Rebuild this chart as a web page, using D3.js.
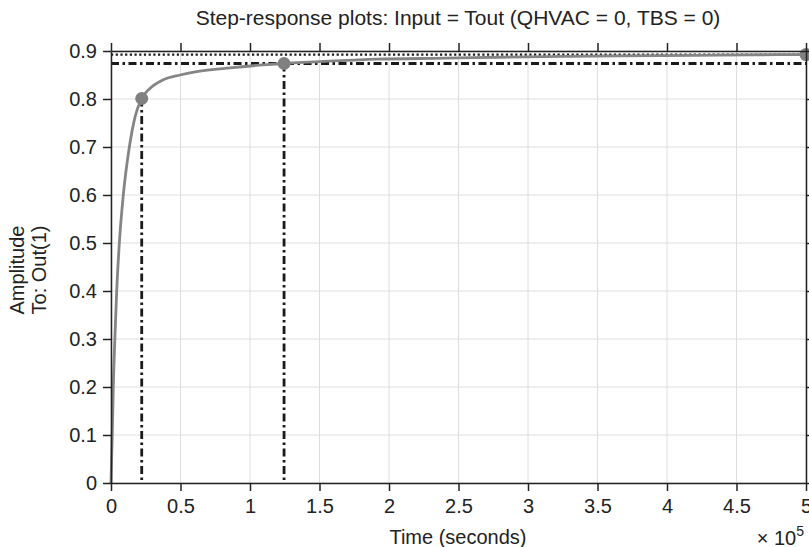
<!DOCTYPE html>
<html>
<head>
<meta charset="utf-8">
<script src="https://cdn.jsdelivr.net/npm/d3@7"></script>
<style>
  body { margin: 0; background: #fff; }
  svg { display: block; font-family: "Liberation Sans", Arial, sans-serif; }
</style>
</head>
<body>
<svg id="chart" width="809" height="547"></svg>
<script>
// step response (time in seconds, amplitude)
const timeS = [0, 450, 900, 1650, 2900, 4100, 6000, 8850, 13200, 17500, 22100, 28000, 37600, 49600, 61600,
  85600, 109500, 124500, 157500, 191000, 240000, 280000, 330000, 366000, 420000, 460000, 500000];
const amp = [0, 0.052, 0.10, 0.20, 0.31, 0.40, 0.50, 0.60, 0.70, 0.765, 0.801, 0.822, 0.840, 0.850, 0.857,
  0.865, 0.871, 0.874, 0.879, 0.883, 0.885, 0.887, 0.889, 0.890, 0.891, 0.892, 0.8925];

// characteristics markers
const riseTime = 22100, riseAmp = 0.801;
const settleTime = 124500, settleAmp = 0.874;
const finalTime = 500000, finalAmp = 0.8925;

const xTicks = [0, 0.5e5, 1e5, 1.5e5, 2e5, 2.5e5, 3e5, 3.5e5, 4e5, 4.5e5, 5e5];
const yTicks = [0, 0.1, 0.2, 0.3, 0.4, 0.5, 0.6, 0.7, 0.8, 0.9];

const titleText = "Step-response plots: Input = Tout (QHVAC = 0, TBS = 0)";

const margin = {top: 51, right: 3, bottom: 64, left: 111};
const W = 809, H = 547;
const svg = d3.select('#chart');

const x = d3.scaleLinear().domain([0, 5e5]).range([margin.left, W - margin.right]);
const y = d3.scaleLinear().domain([0, 0.9]).range([H - margin.bottom, margin.top]);

// grid
const grid = svg.append('g').attr('stroke', '#dedede').attr('stroke-width', 1);
grid.selectAll('line.gx').data(xTicks).join('line')
  .attr('x1', d => x(d)).attr('x2', d => x(d))
  .attr('y1', y(0)).attr('y2', y(0.9));
grid.selectAll('line.gy').data(yTicks).join('line')
  .attr('x1', x(0)).attr('x2', x(5e5))
  .attr('y1', d => y(d)).attr('y2', d => y(d));

const dashDot = '8,3.5,2.5,3.5';

// steady state (dotted)
svg.append('line')
  .attr('x1', x(0)).attr('x2', x(5e5))
  .attr('y1', y(finalAmp)).attr('y2', y(finalAmp))
  .attr('stroke', '#1a1a1a').attr('stroke-width', 2.4).attr('stroke-dasharray', '2.2,2.5');

// settling band (dash-dot)
svg.append('line')
  .attr('x1', x(0)).attr('x2', x(5e5))
  .attr('y1', y(settleAmp)).attr('y2', y(settleAmp))
  .attr('stroke', '#1a1a1a').attr('stroke-width', 2.8).attr('stroke-dasharray', dashDot);

// vertical markers
svg.selectAll('line.vm').data([[riseTime, riseAmp], [settleTime, settleAmp]]).join('line')
  .attr('x1', d => x(d[0])).attr('x2', d => x(d[0]))
  .attr('y1', d => y(d[1])).attr('y2', y(0))
  .attr('stroke', '#1a1a1a').attr('stroke-width', 2.8).attr('stroke-dasharray', dashDot);

// response curve
const line = d3.line().x((d, i) => x(timeS[i])).y(d => y(d)).curve(d3.curveMonotoneX);
svg.append('path').datum(amp)
  .attr('d', line)
  .attr('fill', 'none').attr('stroke', '#858585').attr('stroke-width', 2.8);

svg.selectAll('circle.pt').data([[riseTime, riseAmp], [settleTime, settleAmp], [finalTime, finalAmp]]).join('circle')
  .attr('cx', d => x(d[0])).attr('cy', d => y(d[1])).attr('r', 6.5)
  .attr('fill', '#808080');

// axes
const fmtX = d => d3.format('~g')(d / 1e5);
const fmtY = d => d3.format('~g')(d3.format('.1f')(d));

function styleAxis(g) {
  g.selectAll('path.domain').attr('stroke', '#222').attr('stroke-width', 1.5);
  g.selectAll('.tick line').attr('stroke', '#222').attr('stroke-width', 1.5);
  g.selectAll('.tick text').attr('fill', '#222').style('font-size', '20px')
    .style('font-family', '"Liberation Sans", Arial, sans-serif');
}

svg.append('g').attr('transform', `translate(0,${y(0)})`)
  .call(d3.axisBottom(x).tickValues(xTicks).tickFormat(fmtX).tickSize(8).tickSizeOuter(0).tickPadding(8))
  .call(styleAxis);
svg.append('g').attr('transform', `translate(0,${y(0.9)})`)
  .call(d3.axisTop(x).tickValues(xTicks).tickFormat('').tickSize(8).tickSizeOuter(0))
  .call(styleAxis);
svg.append('g').attr('transform', `translate(${x(0)},0)`)
  .call(d3.axisLeft(y).tickValues(yTicks).tickFormat(fmtY).tickSize(8).tickSizeOuter(0).tickPadding(6))
  .call(styleAxis);
svg.append('g').attr('transform', `translate(${x(5e5)},0)`)
  .call(d3.axisRight(y).tickValues(yTicks).tickFormat('').tickSize(8).tickSizeOuter(0))
  .call(styleAxis);

// texts
svg.append('text').attr('x', 458).attr('y', 25).attr('text-anchor', 'middle')
  .style('font-size', '21px').attr('fill', '#222').text(titleText);

svg.append('text').attr('x', 458).attr('y', 544).attr('text-anchor', 'middle')
  .style('font-size', '20px').attr('fill', '#222').text('Time (seconds)');

const expo = svg.append('text').attr('x', 804).attr('y', 545).attr('text-anchor', 'end')
  .style('font-size', '20px').attr('fill', '#222');
expo.append('tspan').text('\u00d7 10');
expo.append('tspan').attr('dy', -9).style('font-size', '14px').text('5');

const ylab = svg.append('text').attr('transform', 'translate(0,270) rotate(-90)')
  .attr('text-anchor', 'middle').style('font-size', '20px').attr('fill', '#222');
ylab.append('tspan').attr('x', 0).attr('y', 24).text('Amplitude');
ylab.append('tspan').attr('x', 0).attr('y', 46).text('To: Out(1)');
</script>
</body>
</html>
